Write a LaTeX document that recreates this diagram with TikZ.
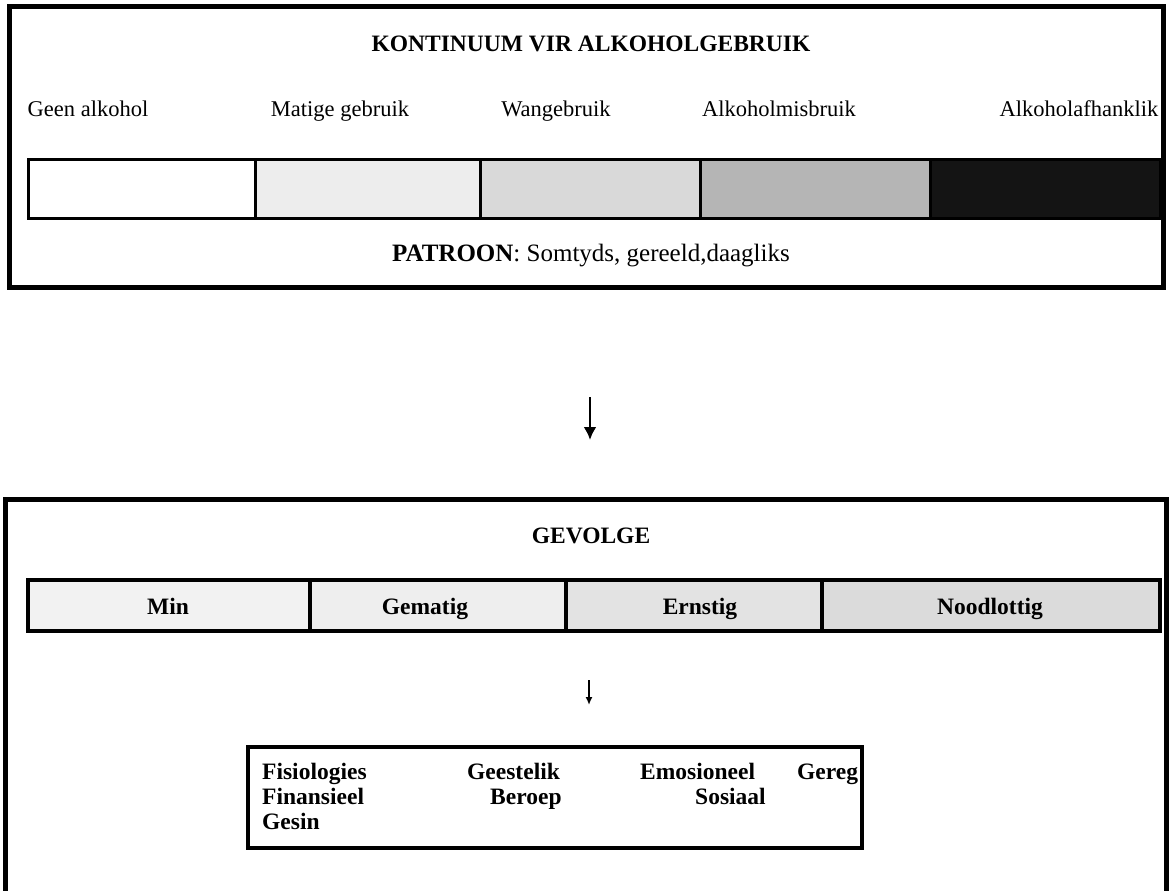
\documentclass[tikz,border=0pt]{standalone}
\usepackage{fontspec}
\setmainfont{Liberation Serif}
\usetikzlibrary{arrows.meta}
\begin{document}
\begin{tikzpicture}[x=1pt,y=-1pt,
  frame/.style={draw=black,line width=5pt},
  lbl/.style={font=\fontsize{22.5}{27}\selectfont,inner sep=0pt,anchor=base},
  plbl/.style={font=\fontsize{25}{29}\selectfont,inner sep=0pt,anchor=base},
  blbl/.style={font=\fontsize{23.5}{28}\selectfont\bfseries,inner sep=0pt,anchor=base},
  ilbl/.style={font=\fontsize{23.5}{27}\selectfont\bfseries,inner sep=0pt,anchor=base west},
  arr/.style={-{Latex[length=13pt,width=13pt]},line width=2.8pt},
  sarr/.style={-{Latex[length=8pt,width=7pt]},line width=1.6pt}]
\useasboundingbox (0,0) rectangle (1170,891);
% top frame
\draw[frame] (9,7) rectangle (1163,287);
\node[blbl] (title) at (591,52) {KONTINUUM VIR ALKOHOLGEBRUIK};
\node[lbl] (l1) at (88,117) {Geen alkohol};
\node[lbl] (l2) at (340,117) {Matige gebruik};
\node[lbl] (l3) at (556,117) {Wangebruik};
\node[lbl] (l4) at (779,117) {Alkoholmisbruik};
\node[lbl] (l5) at (1079,116) {Alkoholafhanklik};
% continuum bar
\draw[line width=3pt,fill=white] (28,159) rectangle (255,218);
\draw[line width=3pt,fill=gray!14] (255,159) rectangle (480,218);
\draw[line width=3pt,fill=gray!30] (480,159) rectangle (700,218);
\draw[line width=3pt,fill=gray!58] (700,159) rectangle (930,218);
\draw[line width=3pt,fill=black!92] (930,159) rectangle (1160,218);
\node[plbl] (pat) at (591,261) {\textbf{PATROON}: Somtyds, gereeld,daagliks};
% big arrow
\coordinate (a1s) at (590,397);
\coordinate (a1e) at (590,440);
\draw[arr] (a1s) -- (a1e);
% bottom frame
\draw[frame] (5,499) -- (1166,499) -- (1166,900);
\draw[frame] (5,497) -- (5,900);
\node[blbl] (gev) at (591,543) {GEVOLGE};
\draw[line width=4pt,fill=gray!10] (28,580) rectangle (310,631);
\draw[line width=4pt,fill=gray!13] (310,580) rectangle (566,631);
\draw[line width=4pt,fill=gray!22] (566,580) rectangle (822,631);
\draw[line width=4pt,fill=gray!28] (822,580) rectangle (1160,631);
\node[blbl] (s1) at (168,614) {Min};
\node[blbl] (s2) at (425,614) {Gematig};
\node[blbl] (s3) at (700,614) {Ernstig};
\node[blbl] (s4) at (990,614) {Noodlottig};
% small arrow
\coordinate (a2s) at (589,680);
\coordinate (a2e) at (589,705);
\draw[sarr] (a2s) -- (a2e);
% inner box
\draw[line width=4.5pt] (248,747) rectangle (862,848);
\node[ilbl] (c1) at (262,779) {Fisiologies};
\node[ilbl] (c2) at (467,779) {Geestelik};
\node[ilbl] (c3) at (640,779) {Emosioneel};
\node[ilbl] (c4) at (797,779) {Gereg};
\node[ilbl] (c5) at (262,804) {Finansieel};
\node[ilbl] (c6) at (490,804) {Beroep};
\node[ilbl] (c7) at (695,804) {Sosiaal};
\node[ilbl] (c8) at (262,829) {Gesin};
\end{tikzpicture}
\end{document}
